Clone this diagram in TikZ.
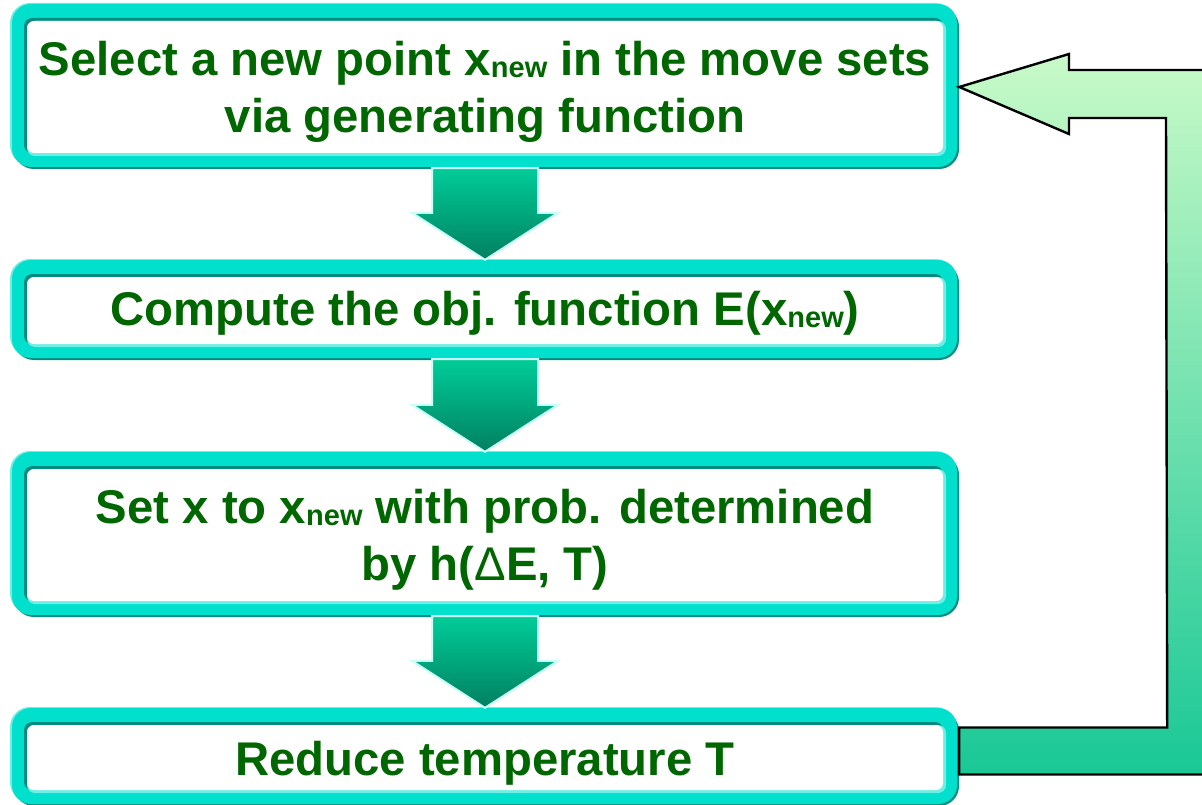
\documentclass[tikz,border=0pt]{standalone}
\usepackage{fontspec}
\setmainfont{Liberation Sans}
\usetikzlibrary{calc}

\definecolor{framemain}{RGB}{0,224,204}
\definecolor{framedark}{RGB}{0,140,128}
\definecolor{framelight}{RGB}{110,238,228}
\definecolor{txtgreen}{RGB}{0,102,0}
\definecolor{arrowtop}{RGB}{0,204,152}
\definecolor{arrowbot}{RGB}{0,128,96}
\definecolor{arrowedge}{RGB}{200,255,248}
\definecolor{loopTop}{RGB}{200,250,200}
\definecolor{loopMid}{RGB}{160,236,185}
\definecolor{loopBot}{RGB}{25,200,150}

% subscript in the step labels
\newcommand\subtxt[1]{\raisebox{-2pt}{\fontsize{29}{29}\selectfont #1}}

% bevelled frame of a step box: #1 top y, #2 bottom y
\newcommand\stepframe[2]{%
  \fill[framelight,rounded corners=20] (10,#1-1) rectangle (955,#2-3);
  \fill[framedark,rounded corners=20] (14,#1+3) rectangle (959,#2+1);
  \fill[framemain,rounded corners=19] (12,#1) rectangle (957,#2-1);
  \fill[framedark,rounded corners=8] (24,#1+14) rectangle (943,#2-15);
  \fill[framelight,rounded corners=8] (27,#1+17) rectangle (946,#2-12);
  \fill[white,rounded corners=7] (27,#1+17) rectangle (943,#2-15);
}

\tikzset{
  stepbox/.style={inner sep=0, minimum width=946},
  steptext/.style={inner sep=0, text=txtgreen,
    font=\fontsize{47.3}{57}\selectfont\bfseries, align=center},
  downarrow/.style={top color=arrowtop, bottom color=arrowbot,
    draw=arrowedge, line width=2, line join=miter},
  looparrow/.style={top color=loopTop, middle color=loopMid,
    bottom color=loopBot, draw=black, line width=2.4, line join=miter}
}

\begin{document}
\begin{tikzpicture}[x=1pt,y=-1pt]
\useasboundingbox (0,0) rectangle (1202,805);
\clip (0,0) rectangle (1202,805);

% step boxes
\stepframe{4}{168}
\node[stepbox, minimum height=164] (b1) at (485,86) {};
\node[steptext] (t1) at ($(b1.center)+(0,6)$)
  {Select a new point x\subtxt{new} in the move sets\\via generating function};

\stepframe{260}{359}
\node[stepbox, minimum height=99] (b2) at (485,309.5) {};
\node[steptext] (t2) at ($(b2.center)+(0,4)$)
  {Compute the obj. function E(x\subtxt{new})};

\stepframe{452}{616}
\node[stepbox, minimum height=164] (b3) at (485,534) {};
\node[steptext] (t3) at ($(b3.center)+(0,6)$)
  {Set x to x\subtxt{new} with prob. determined\\by h({\mdseries Δ}E, T)};

\stepframe{708}{805}
\node[stepbox, minimum height=97] (b4) at (485,756.5) {};
\node[steptext] (t4) at ($(b4.center)+(0,7)$)
  {Reduce temperature T};

% block arrows between the steps
\foreach \a/\b in {b1/b2, b2/b3, b3/b4}{
  \path[downarrow]
    ($(\a.south)+(-53,0)$) -- ($(\b.north)+(-53,-47)$) -- ($(\b.north)+(-73,-47)$)
    -- (\b.north) -- ($(\b.north)+(73,-47)$) -- ($(\b.north)+(53,-47)$)
    -- ($(\a.south)+(53,0)$) -- cycle;
}

% loop back from the last step to the first
\path[looparrow]
  ($(b4.east)+(1,-29)$) -- ($(b4.east)+(209,-29)$) -- (1166,118)
  -- (1069,118) -- (1069,134) -- ($(b1.east)+(1,1)$) -- (1069,54)
  -- (1069,70) -- (1214,70) -- ($(b4.east)+(257,18)$)
  -- ($(b4.east)+(1,18)$) -- cycle;
\end{tikzpicture}
\end{document}
